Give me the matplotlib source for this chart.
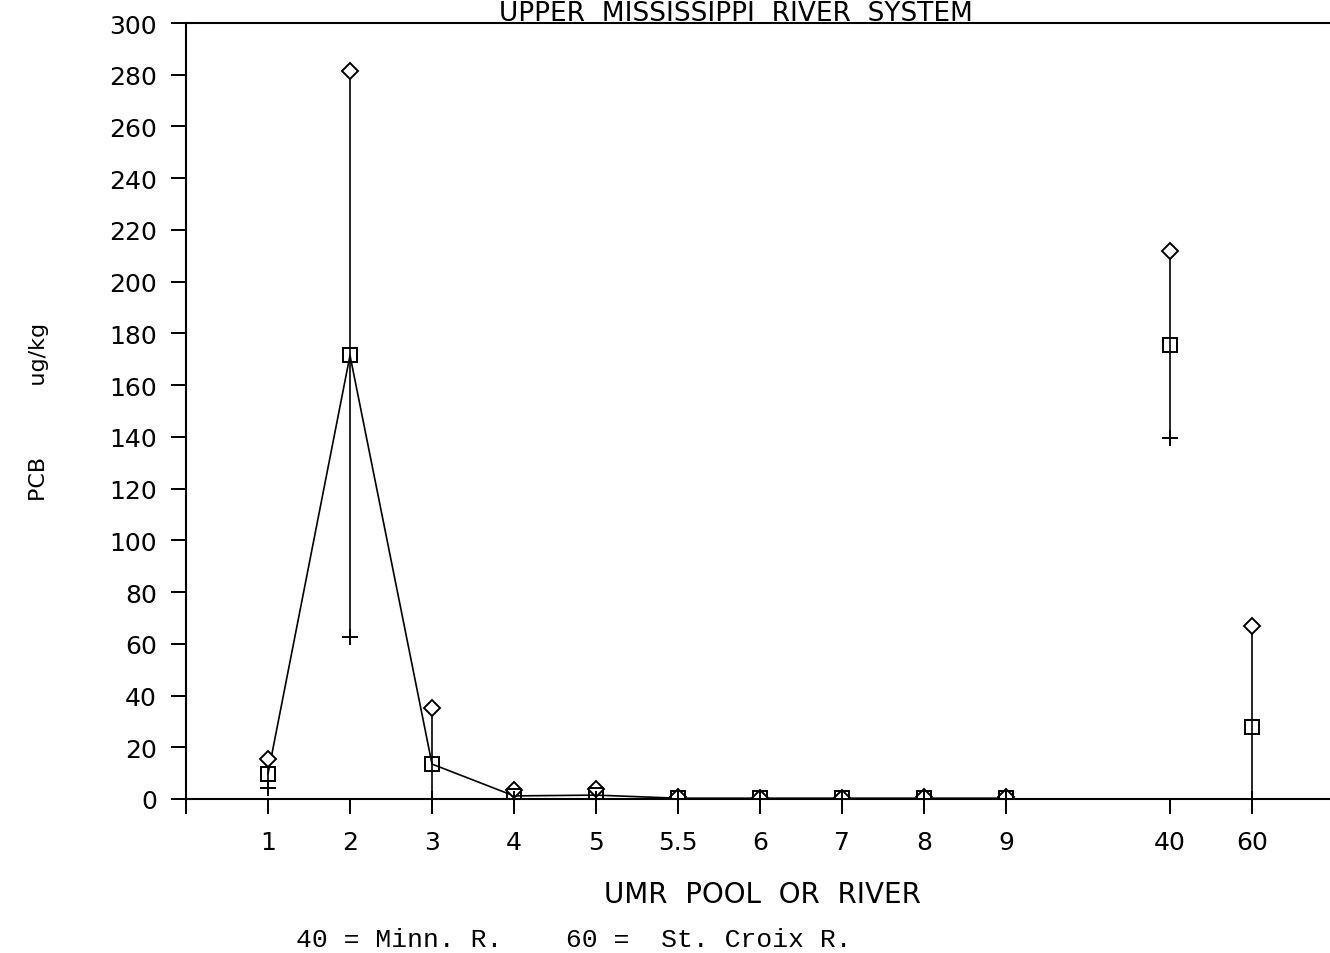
import matplotlib.pyplot as plt

# PCB in sediment, upper Mississippi pools and tributaries (ug/kg)
pool_labels = ['1', '2', '3', '4', '5', '5.5', '6', '7', '8', '9', '40', '60']
pool_pos = [1, 2, 3, 4, 5, 6, 7, 8, 9, 10, 12, 13]
pcb_max = [15.5, 281.5, 35.0, 3.6, 4.0, 0.6, 0.5, 0.5, 0.6, 0.6, 212.0, 67.0]
pcb_mean = [9.7, 171.5, 13.5, 1.2, 1.5, 0.3, 0.3, 0.3, 0.3, 0.3, 175.5, 28.0]
pcb_min = [4.3, 62.5, 0.0, 0.1, 0.1, 0.1, 0.1, 0.1, 0.1, 0.1, 139.5, 0.0]
n_river = 10  # first ten stations are main-stem pools, joined by a line

yticks = list(range(0, 301, 20))

plt.rcParams['font.family'] = ['DejaVu Sans']

fig = plt.figure(figsize=(13.3, 9.54), dpi=100)
ax = fig.add_axes([186 / 1330, 154 / 954, 1 - 186 / 1330, 776 / 954])

lw = 1.2
# range bars
for x, lo, hi in zip(pool_pos, pcb_min, pcb_max):
    ax.plot([x, x], [lo, hi], color='black', lw=lw, zorder=2)

# mean line along the river pools
ax.plot(pool_pos[:n_river], pcb_mean[:n_river], color='black', lw=lw, zorder=2)

ax.plot(pool_pos, pcb_max, linestyle='none', marker='D', markersize=8.5,
        markerfacecolor='white', markeredgecolor='black', markeredgewidth=1.4, zorder=3)
ax.plot(pool_pos, pcb_mean, linestyle='none', marker='s', markersize=10.5,
        markerfacecolor='none', markeredgecolor='black', markeredgewidth=1.4, zorder=3)
ax.plot(pool_pos, pcb_min, linestyle='none', marker='+', markersize=12,
        markeredgecolor='black', markeredgewidth=1.4, zorder=3)

ax.set_xlim(0, (1330 - 186) / 82)
ax.set_ylim(0, 300)
ax.set_xticks([0] + pool_pos)
ax.set_xticklabels([''] + pool_labels)
ax.set_yticks(yticks)
ax.set_yticklabels([str(v) for v in yticks])

ax.spines['right'].set_visible(False)
for side in ['left', 'bottom', 'top']:
    ax.spines[side].set_linewidth(1.5)
ax.tick_params(axis='both', direction='out', length=11, width=1.4,
               labelsize=18, colors='black')
ax.tick_params(axis='y', pad=10)
ax.tick_params(axis='x', pad=11)

ax.set_ylabel('PCB          ug/kg', fontsize=16)
ax.yaxis.set_label_coords(-0.12, 0.5)
ax.set_xlabel('UMR  POOL  OR  RIVER', fontsize=20)
ax.xaxis.set_label_coords(0.5035, -0.105)

fig.text(736 / 1330, 1 - 21 / 954, 'UPPER  MISSISSIPPI  RIVER  SYSTEM',
         ha='center', va='baseline', fontsize=19)
fig.text(296 / 1330, 1 - 940 / 954, '40 = Minn. R.    60 =  St. Croix R.',
         ha='left', va='center', fontsize=19, family='Liberation Mono')

fig.savefig('out.png', dpi=100)
